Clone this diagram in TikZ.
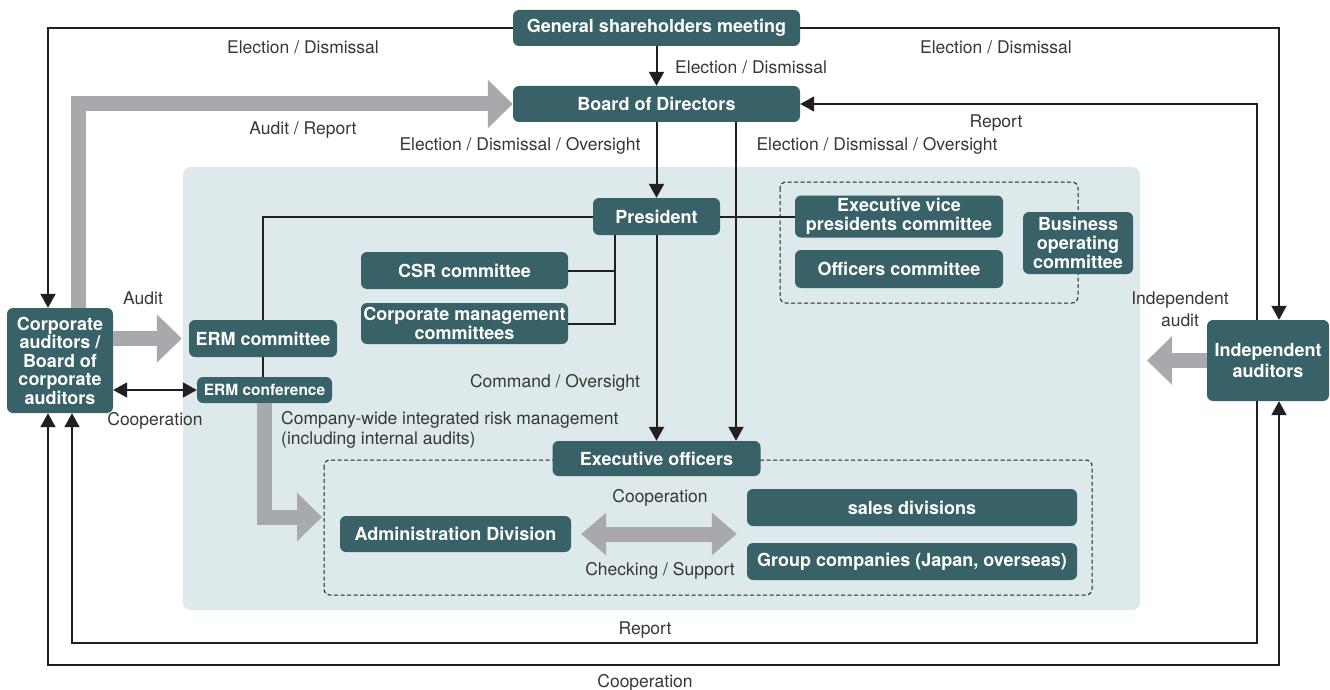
\documentclass[tikz,border=0pt]{standalone}
\usepackage{fontspec}
\setmainfont{TeX Gyre Heros}
\usetikzlibrary{arrows.meta}
\definecolor{boxfill}{RGB}{56,98,104}
\definecolor{panel}{RGB}{221,233,235}
\definecolor{flow}{RGB}{167,169,172}
\definecolor{ink}{RGB}{35,31,32}
\definecolor{lbl}{RGB}{55,55,55}
\begin{document}
\begin{tikzpicture}[x=1pt,y=-1pt,
  box/.style={rectangle, rounded corners=6pt, fill=boxfill, text=white, inner sep=0pt,
    align=center, font=\fontsize{18}{19}\selectfont\bfseries},
  sz/.style 2 args={minimum width=#1pt, minimum height=#2pt},
  lab/.style={font=\fontsize{17.5}{21}\selectfont, text=lbl, inner sep=0pt},
  link/.style={draw=ink, line width=2pt},
  tip/.style={-{Triangle[length=14pt,width=15pt]}},
  tips/.style={{Triangle[length=14pt,width=15pt]}-{Triangle[length=14pt,width=15pt]}},
  fat/.style={draw=flow, line width=15pt, -{Triangle[length=25pt,width=47pt]}},
  fattwo/.style={draw=flow, line width=15pt,
    {Triangle[length=25pt,width=41pt]}-{Triangle[length=25pt,width=41pt]}},
  fence/.style={draw=ink, line width=1pt, dash pattern=on 4pt off 2.5pt, rounded corners=6pt}]

\useasboundingbox (0,0) rectangle (1330,690);

% executive area and dashed groupings
\fill[panel, rounded corners=8pt] (183,167) rectangle (1140,610);
\draw[fence] (780,182) rectangle (1078,303);
\draw[fence] (324,460) rectangle (1092,595);

% bodies
\node[box, sz={287}{36}] (gsm) at (656.5,28) {General shareholders meeting};
\node[box, sz={287}{36}] (bod) at (656.5,104) {Board of Directors};
\node[box, sz={127}{37}] (pres) at (656.5,216.5) {President};
\node[box, sz={207}{37}] (csr) at (464.5,270.5) {CSR committee};
\node[box, sz={207}{41}] (cmc) at (464.5,323.5) {Corporate management\\committees};
\node[box, sz={208}{42}] (evp) at (899,216.5) {Executive vice\\presidents committee};
\node[box, sz={208}{38}] (off) at (899,269) {Officers committee};
\node[box, sz={110}{62}] (bus) at (1078,243) {Business\\operating\\committee};
\node[box, sz={148}{37}] (ermc) at (263,338.5) {ERM committee};
\node[box, sz={135}{26}, font=\fontsize{15.5}{17}\selectfont\bfseries] (ermf) at (264.5,390) {ERM conference};
\node[box, sz={106}{105}, font=\fontsize{18}{18.5}\selectfont\bfseries] (ca) at (60,360.5)
  {Corporate\\auditors /\\Board of\\corporate\\auditors};
\node[box, sz={122}{81}, font=\fontsize{18}{21}\selectfont\bfseries] (ia) at (1268,360.5) {Independent\\auditors};
\node[box, sz={208}{35}] (eo) at (656.5,458.5) {Executive officers};
\node[box, sz={231}{36}] (adm) at (455.5,534) {Administration Division};
\node[box, sz={330}{37}] (sales) at (912,507.5) {sales divisions};
\node[box, sz={330}{37}] (grp) at (912,561.5) {Group companies (Japan, overseas)};

\coordinate (auditin) at (1147,360.5);
\coordinate (riskin) at (322,517);

% broad grey flows
\draw[fat] ([xshift=18pt]ca.north) |- (bod.west);
\draw[fat, shorten >=7pt] (ca.east |- ermc) -- (ermc.west);
\draw[fat] (ia.west) -- (auditin);
\draw[fat] (ermf.south) |- (riskin);
\draw[fattwo] ([xshift=10pt]adm.east) -- ([xshift=-10pt]sales.west |- adm);

% reporting lines
\draw[link, tip] (gsm.west) -| ([xshift=-12pt]ca.north);
\draw[link, tip] (gsm.east) -| ([xshift=11pt]ia.north);
\draw[link, tip] (gsm.south) -- (bod.north);
\draw[link, tip] ([xshift=-11pt]ia.north) |- (bod.east);
\draw[link, tip] (bod.south) -- (pres.north);
\draw[link, tip] ([xshift=79.5pt]bod.south) -- ([xshift=79.5pt]eo.north);
\draw[link, tip] (pres.south) -- (eo.north);
\draw[link] (pres.west) -| (ermc.north);
\draw[link] (ermc.south) -- (ermc.south |- ermf.north);
\draw[link] (pres.east) -- (evp.west);
\draw[link] ([xshift=-41.5pt]pres.south) |- (cmc.east);
\draw[link] (csr.east) -| ([xshift=-41.5pt]pres.south);
\draw[link, tips] (ca.east |- ermf.west) -- (ermf.west);
\draw[link, tip] ([xshift=-11pt]ia.south) -- ++(0,242) -| ([xshift=12pt]ca.south);
\draw[link, tips] ([xshift=-12pt]ca.south) -- ++(0,252) -| ([xshift=11pt]ia.south);

% labels
\node[lab] (t1) at (303,47) {Election / Dismissal};
\node[lab] (t2) at (996,47) {Election / Dismissal};
\node[lab, anchor=west] (t3) at (675,67) {Election / Dismissal};
\node[lab] (t4) at (303,130) {Audit / Report};
\node[lab] (t5) at (996,123) {Report};
\node[lab] (t6) at (520,146) {Election / Dismissal / Oversight};
\node[lab] (t7) at (877,146) {Election / Dismissal / Oversight};
\node[lab] (t8) at (143,298) {Audit};
\node[lab] (t9) at (155,421) {Cooperation};
\node[lab, align=center, font=\fontsize{17.5}{22}\selectfont] (t10) at (1180,309) {Independent\\audit};
\node[lab, align=left, anchor=west, font=\fontsize{17.5}{20}\selectfont] (t11) at (281,430)
  {Company-wide integrated risk management\\(including internal audits)};
\node[lab] (t12) at (555,383) {Command / Oversight};
\node[lab] (t13) at (660,498) {Cooperation};
\node[lab] (t14) at (660,571) {Checking / Support};
\node[lab] (t15) at (645,630) {Report};
\node[lab] (t16) at (645,683) {Cooperation};
\end{tikzpicture}
\end{document}
